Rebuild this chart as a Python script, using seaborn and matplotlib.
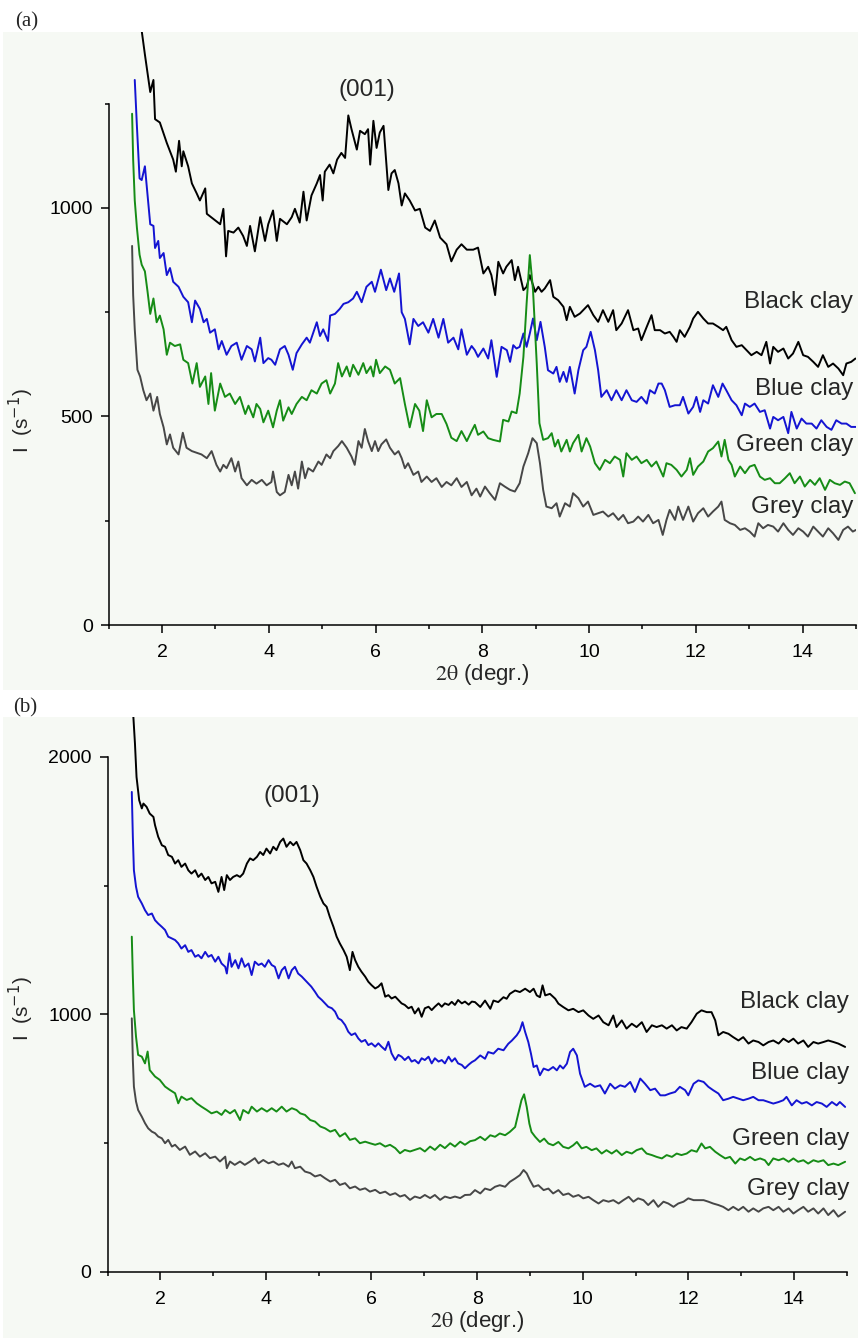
import matplotlib
matplotlib.use("Agg")
import matplotlib.pyplot as plt
import seaborn as sns
import pandas as pd
from matplotlib.patches import Rectangle

# ---------------- data ----------------
SAMPLES = ["Black clay", "Blue clay", "Green clay", "Grey clay"]
COLORS = ["#000000", "#1414d2", "#168c16", "#474747"]

A_BLACK = [(1.60,1460),(1.62,1425),(1.68,1368),(1.78,1278),(1.84,1307),(1.87,1213),(1.96,1205),(2.09,1156),(2.21,1116),(2.26,1087),(2.32,1161),(2.37,1100),(2.40,1136),(2.49,1100),(2.56,1059),(2.65,1035),(2.71,1018),(2.81,1047),(2.84,986),(2.96,974),(3.09,961),(3.15,998),(3.20,884),(3.24,945),(3.34,941),(3.43,953),(3.52,933),(3.59,909),(3.65,957),(3.74,896),(3.84,978),(3.93,921),(3.99,961),(4.08,994),(4.15,921),(4.21,974),(4.34,961),(4.43,978),(4.49,998),(4.58,965),(4.65,1039),(4.71,970),(4.80,1030),(4.90,1059),(4.96,1079),(5.01,1018),(5.05,1087),(5.14,1104),(5.21,1083),(5.28,1116),(5.36,1132),(5.43,1120),(5.49,1222),(5.55,1189),(5.65,1140),(5.71,1185),(5.80,1177),(5.86,1189),(5.90,1104),(5.96,1209),(6.02,1144),(6.08,1181),(6.15,1197),(6.24,1043),(6.30,1083),(6.36,1091),(6.43,1059),(6.49,1006),(6.55,1035),(6.64,1018),(6.74,994),(6.83,998),(6.93,953),(7.02,945),(7.11,970),(7.21,929),(7.33,913),(7.42,872),(7.52,900),(7.61,913),(7.71,900),(7.83,900),(7.92,905),(8.02,843),(8.11,859),(8.17,839),(8.24,791),(8.30,871),(8.39,843),(8.45,859),(8.55,875),(8.61,827),(8.67,859),(8.77,803),(8.83,811),(8.89,839),(8.99,799),(9.05,811),(9.11,799),(9.17,807),(9.27,827),(9.33,787),(9.42,779),(9.52,763),(9.58,731),(9.64,763),(9.73,739),(9.83,747),(9.92,759),(9.98,767),(10.08,743),(10.17,727),(10.26,755),(10.36,727),(10.45,755),(10.51,707),(10.61,723),(10.73,755),(10.83,707),(10.92,711),(10.98,683),(11.08,715),(11.17,743),(11.23,707),(11.33,707),(11.42,699),(11.51,703),(11.58,691),(11.64,679),(11.70,707),(11.79,691),(11.89,715),(11.95,735),(12.04,751),(12.14,735),(12.23,723),(12.32,723),(12.42,715),(12.51,707),(12.57,715),(12.67,683),(12.76,667),(12.86,671),(12.95,659),(13.04,647),(13.14,655),(13.23,647),(13.32,679),(13.39,627),(13.45,667),(13.54,655),(13.64,663),(13.73,639),(13.82,651),(13.92,679),(14.01,647),(14.10,643),(14.20,631),(14.29,619),(14.38,647),(14.48,619),(14.57,627),(14.67,615),(14.76,599),(14.82,627),(14.91,631),(14.99,639)]

A_BLUE = [(1.49,1307),(1.53,1197),(1.58,1071),(1.62,1067),(1.68,1100),(1.71,1059),(1.78,961),(1.84,957),(1.87,904),(1.93,921),(1.96,880),(2.03,892),(2.09,839),(2.15,856),(2.21,823),(2.31,811),(2.40,787),(2.49,774),(2.56,726),(2.62,778),(2.71,758),(2.78,726),(2.84,734),(2.90,701),(2.99,709),(3.06,661),(3.12,681),(3.21,648),(3.30,669),(3.40,677),(3.49,636),(3.59,669),(3.68,661),(3.74,632),(3.84,689),(3.90,628),(3.99,640),(4.05,636),(4.12,624),(4.21,661),(4.30,669),(4.37,648),(4.45,612),(4.52,652),(4.62,673),(4.71,689),(4.77,677),(4.90,726),(4.96,693),(5.02,709),(5.11,681),(5.15,742),(5.24,746),(5.33,758),(5.40,770),(5.49,774),(5.58,783),(5.65,799),(5.74,774),(5.83,811),(5.93,823),(5.99,799),(6.10,852),(6.20,803),(6.27,831),(6.35,799),(6.44,843),(6.49,750),(6.55,734),(6.64,673),(6.71,734),(6.80,717),(6.89,726),(6.99,701),(7.08,734),(7.18,689),(7.27,734),(7.36,677),(7.46,689),(7.55,661),(7.61,709),(7.71,648),(7.80,669),(7.86,659),(7.92,643),(8.02,663),(8.11,639),(8.17,683),(8.27,595),(8.36,667),(8.46,659),(8.52,631),(8.58,671),(8.64,663),(8.70,667),(8.77,699),(8.83,667),(8.89,699),(8.95,735),(9.02,683),(9.09,727),(9.17,667),(9.23,611),(9.33,603),(9.39,619),(9.45,583),(9.52,607),(9.58,583),(9.64,619),(9.73,555),(9.80,611),(9.89,659),(9.95,667),(10.03,703),(10.11,659),(10.17,611),(10.23,547),(10.33,563),(10.42,539),(10.51,563),(10.61,539),(10.70,563),(10.80,539),(10.89,535),(10.98,547),(11.08,531),(11.14,563),(11.23,555),(11.30,579),(11.36,579),(11.42,563),(11.51,523),(11.61,527),(11.70,527),(11.76,547),(11.86,507),(11.95,523),(12.01,547),(12.08,511),(12.14,539),(12.23,531),(12.32,575),(12.42,547),(12.50,579),(12.57,563),(12.67,539),(12.76,527),(12.86,503),(12.92,531),(13.01,523),(13.10,531),(13.20,511),(13.29,515),(13.39,471),(13.45,499),(13.54,491),(13.64,499),(13.73,460),(13.79,511),(13.89,471),(13.98,495),(14.07,483),(14.17,483),(14.26,471),(14.35,491),(14.45,475),(14.54,468),(14.63,491),(14.73,483),(14.82,483),(14.91,475),(15.00,475)]

A_GREEN = [(1.44,1226),(1.46,1116),(1.49,1018),(1.53,953),(1.58,888),(1.62,864),(1.68,848),(1.73,799),(1.78,746),(1.84,783),(1.90,726),(1.96,742),(2.03,709),(2.09,648),(2.15,677),(2.24,669),(2.34,673),(2.40,636),(2.49,628),(2.57,579),(2.65,628),(2.71,571),(2.81,596),(2.87,530),(2.92,604),(2.99,514),(3.09,579),(3.18,547),(3.27,555),(3.37,530),(3.46,547),(3.56,506),(3.62,526),(3.71,498),(3.77,530),(3.84,518),(3.90,486),(3.99,514),(4.08,474),(4.15,514),(4.21,539),(4.27,490),(4.37,522),(4.43,506),(4.52,530),(4.62,547),(4.71,539),(4.80,563),(4.90,555),(4.99,579),(5.08,587),(5.15,555),(5.24,579),(5.30,628),(5.37,596),(5.46,620),(5.52,596),(5.58,624),(5.68,600),(5.77,628),(5.83,604),(5.91,620),(5.96,596),(6.01,636),(6.08,604),(6.18,620),(6.27,612),(6.36,579),(6.46,592),(6.55,530),(6.64,474),(6.74,530),(6.82,514),(6.89,465),(6.96,539),(7.05,498),(7.14,506),(7.24,506),(7.33,482),(7.42,449),(7.52,441),(7.61,465),(7.71,441),(7.80,465),(7.86,480),(7.92,456),(8.02,464),(8.11,448),(8.20,444),(8.33,440),(8.39,492),(8.49,488),(8.55,512),(8.64,508),(8.70,555),(8.77,643),(8.83,771),(8.89,887),(8.95,803),(9.02,627),(9.07,484),(9.14,444),(9.23,448),(9.30,460),(9.36,428),(9.42,444),(9.48,416),(9.58,444),(9.64,416),(9.70,436),(9.80,456),(9.86,416),(9.95,448),(10.02,428),(10.11,388),(10.20,372),(10.30,396),(10.39,388),(10.48,404),(10.58,396),(10.64,356),(10.70,412),(10.80,396),(10.89,404),(10.98,388),(11.08,396),(11.17,380),(11.26,392),(11.39,356),(11.45,388),(11.54,384),(11.64,372),(11.73,356),(11.83,372),(11.89,400),(11.95,360),(12.04,380),(12.14,392),(12.23,416),(12.32,424),(12.42,440),(12.48,404),(12.54,444),(12.61,396),(12.67,384),(12.73,356),(12.83,380),(12.92,364),(13.01,380),(13.10,384),(13.20,356),(13.29,348),(13.39,352),(13.48,340),(13.57,340),(13.67,352),(13.76,364),(13.85,340),(13.95,356),(14.04,332),(14.14,348),(14.23,336),(14.32,352),(14.42,324),(14.51,348),(14.60,340),(14.70,336),(14.79,344),(14.88,340),(14.98,316)]

A_GREY = [(1.44,909),(1.46,791),(1.49,709),(1.54,612),(1.59,596),(1.65,563),(1.71,539),(1.78,555),(1.84,514),(1.91,547),(1.96,506),(2.03,474),(2.09,433),(2.15,457),(2.21,425),(2.31,409),(2.39,461),(2.46,425),(2.56,417),(2.65,413),(2.74,409),(2.84,400),(2.93,417),(3.02,384),(3.09,368),(3.15,384),(3.21,376),(3.30,400),(3.37,368),(3.43,392),(3.49,352),(3.59,335),(3.68,348),(3.77,339),(3.87,348),(3.96,335),(4.05,343),(4.08,368),(4.15,319),(4.21,311),(4.30,319),(4.37,360),(4.43,335),(4.49,368),(4.55,327),(4.62,392),(4.68,352),(4.74,376),(4.83,368),(4.93,392),(4.99,384),(5.08,409),(5.15,400),(5.21,417),(5.30,429),(5.37,441),(5.46,425),(5.55,404),(5.61,384),(5.68,441),(5.74,425),(5.80,470),(5.86,441),(5.93,417),(5.99,441),(6.05,417),(6.11,433),(6.20,445),(6.27,425),(6.36,409),(6.43,417),(6.49,400),(6.55,376),(6.61,388),(6.71,360),(6.80,368),(6.86,343),(6.96,356),(7.05,343),(7.14,352),(7.24,331),(7.33,343),(7.42,335),(7.52,352),(7.61,331),(7.71,343),(7.80,311),(7.89,327),(7.96,308),(8.05,332),(8.14,316),(8.24,300),(8.33,340),(8.42,332),(8.52,324),(8.61,320),(8.70,340),(8.77,380),(8.86,412),(8.94,448),(9.02,436),(9.08,388),(9.14,324),(9.20,284),(9.30,280),(9.39,292),(9.45,260),(9.55,292),(9.64,284),(9.70,316),(9.80,304),(9.89,284),(9.98,296),(10.08,264),(10.17,268),(10.26,272),(10.36,260),(10.45,268),(10.55,252),(10.64,264),(10.73,244),(10.83,248),(10.92,260),(11.01,248),(11.11,264),(11.20,244),(11.30,252),(11.38,216),(11.45,252),(11.51,276),(11.61,252),(11.67,284),(11.76,252),(11.86,284),(11.95,248),(12.04,268),(12.14,280),(12.23,260),(12.32,272),(12.42,284),(12.48,296),(12.54,252),(12.64,244),(12.73,240),(12.83,228),(12.92,232),(13.01,224),(13.10,212),(13.17,244),(13.26,232),(13.35,240),(13.45,236),(13.54,224),(13.64,244),(13.73,228),(13.82,216),(13.92,232),(14.01,224),(14.10,212),(14.20,236),(14.29,224),(14.38,212),(14.48,232),(14.57,220),(14.67,204),(14.76,228),(14.85,236),(14.94,224),(15.00,228)]

B_BLACK = [(1.48,2200),(1.49,2155),(1.52,2052),(1.55,1922),(1.60,1832),(1.65,1800),(1.68,1819),(1.74,1806),(1.80,1780),(1.87,1767),(1.90,1735),(1.96,1690),(2.03,1657),(2.09,1651),(2.15,1619),(2.22,1612),(2.28,1586),(2.34,1599),(2.40,1573),(2.47,1586),(2.53,1560),(2.59,1547),(2.66,1560),(2.72,1534),(2.78,1547),(2.85,1522),(2.91,1534),(2.97,1509),(3.04,1515),(3.10,1476),(3.16,1534),(3.21,1483),(3.26,1541),(3.32,1522),(3.38,1534),(3.45,1541),(3.51,1534),(3.57,1547),(3.64,1586),(3.70,1606),(3.76,1599),(3.83,1612),(3.89,1631),(3.95,1619),(4.01,1644),(4.08,1625),(4.14,1651),(4.20,1638),(4.27,1670),(4.33,1683),(4.39,1651),(4.46,1670),(4.52,1657),(4.58,1670),(4.65,1638),(4.71,1599),(4.77,1586),(4.84,1560),(4.90,1534),(4.96,1496),(5.03,1457),(5.09,1431),(5.15,1418),(5.21,1379),(5.28,1340),(5.34,1302),(5.40,1276),(5.47,1250),(5.53,1224),(5.59,1172),(5.64,1243),(5.69,1211),(5.75,1185),(5.81,1166),(5.88,1147),(5.94,1127),(6.00,1114),(6.07,1101),(6.13,1108),(6.19,1121),(6.26,1069),(6.32,1075),(6.38,1062),(6.45,1069),(6.51,1056),(6.57,1043),(6.63,1037),(6.70,1024),(6.76,1030),(6.82,1004),(6.89,1024),(6.95,991),(7.01,1024),(7.08,1030),(7.14,1017),(7.20,1030),(7.27,1043),(7.33,1030),(7.39,1043),(7.46,1037),(7.52,1049),(7.58,1037),(7.64,1056),(7.71,1043),(7.77,1050),(7.84,1038),(7.90,1050),(7.96,1048),(8.06,1029),(8.15,1054),(8.25,1022),(8.31,1054),(8.40,1048),(8.50,1067),(8.56,1061),(8.62,1080),(8.72,1093),(8.81,1087),(8.91,1100),(9.00,1087),(9.07,1100),(9.13,1074),(9.19,1067),(9.24,1113),(9.29,1074),(9.38,1080),(9.48,1061),(9.54,1042),(9.63,1029),(9.73,1016),(9.82,1022),(9.92,1009),(10.01,1016),(10.11,996),(10.20,983),(10.30,996),(10.39,970),(10.49,958),(10.58,996),(10.64,951),(10.74,977),(10.83,945),(10.93,964),(11.02,951),(11.12,970),(11.21,932),(11.31,958),(11.40,951),(11.50,958),(11.59,945),(11.69,958),(11.78,938),(11.87,951),(11.97,945),(12.06,970),(12.16,1003),(12.25,1016),(12.35,1009),(12.44,1009),(12.51,977),(12.57,919),(12.66,932),(12.76,925),(12.85,912),(12.95,899),(13.04,912),(13.14,887),(13.23,899),(13.33,893),(13.42,880),(13.52,893),(13.61,899),(13.71,887),(13.80,906),(13.90,893),(13.99,906),(14.08,887),(14.18,899),(14.27,874),(14.37,893),(14.46,887),(14.56,893),(14.65,899),(14.75,893),(14.84,887),(14.97,874)]

B_BLUE = [(1.46,1864),(1.48,1690),(1.50,1560),(1.54,1496),(1.58,1457),(1.65,1431),(1.71,1405),(1.77,1386),(1.84,1392),(1.90,1366),(1.96,1353),(2.03,1340),(2.09,1328),(2.15,1302),(2.22,1295),(2.28,1289),(2.34,1276),(2.40,1256),(2.47,1269),(2.53,1243),(2.59,1250),(2.66,1224),(2.72,1231),(2.78,1218),(2.85,1243),(2.91,1224),(2.97,1231),(3.04,1205),(3.10,1224),(3.16,1198),(3.23,1185),(3.26,1159),(3.31,1237),(3.35,1185),(3.42,1211),(3.48,1179),(3.54,1218),(3.60,1185),(3.67,1198),(3.73,1153),(3.79,1205),(3.86,1192),(3.92,1198),(3.98,1185),(4.05,1211),(4.11,1192),(4.17,1185),(4.24,1140),(4.30,1172),(4.36,1185),(4.43,1140),(4.49,1172),(4.55,1185),(4.61,1159),(4.68,1147),(4.74,1134),(4.80,1121),(4.86,1108),(4.93,1088),(4.99,1069),(5.06,1056),(5.12,1043),(5.18,1030),(5.25,1024),(5.31,1011),(5.37,985),(5.43,978),(5.50,959),(5.56,933),(5.62,920),(5.69,927),(5.75,907),(5.81,894),(5.88,901),(5.94,881),(6.00,888),(6.07,875),(6.13,888),(6.19,875),(6.26,862),(6.32,894),(6.38,849),(6.45,823),(6.51,843),(6.57,836),(6.63,823),(6.70,836),(6.76,817),(6.82,823),(6.89,810),(6.95,830),(7.01,823),(7.08,836),(7.14,810),(7.20,830),(7.27,817),(7.33,823),(7.39,810),(7.46,836),(7.52,817),(7.58,830),(7.64,810),(7.71,804),(7.77,791),(7.84,805),(7.90,815),(7.96,822),(8.06,841),(8.15,828),(8.21,854),(8.31,848),(8.40,867),(8.50,861),(8.59,886),(8.66,899),(8.75,919),(8.81,938),(8.86,970),(8.91,932),(8.97,893),(9.02,848),(9.07,796),(9.13,802),(9.19,764),(9.26,790),(9.35,783),(9.44,796),(9.51,783),(9.57,802),(9.63,790),(9.70,809),(9.76,854),(9.82,867),(9.89,841),(9.95,770),(10.04,719),(10.14,731),(10.23,719),(10.33,725),(10.42,693),(10.52,731),(10.61,712),(10.71,725),(10.80,719),(10.90,738),(10.99,699),(11.09,751),(11.18,731),(11.28,706),(11.37,712),(11.47,686),(11.56,686),(11.65,693),(11.75,699),(11.84,719),(11.94,706),(12.00,686),(12.10,731),(12.19,744),(12.29,738),(12.38,719),(12.47,706),(12.57,693),(12.66,667),(12.76,673),(12.85,680),(12.95,673),(13.04,667),(13.14,673),(13.23,680),(13.33,667),(13.42,667),(13.52,660),(13.61,654),(13.71,660),(13.80,667),(13.86,680),(13.96,647),(14.05,667),(14.15,654),(14.24,660),(14.34,647),(14.43,660),(14.53,654),(14.62,641),(14.72,660),(14.81,647),(14.87,660),(14.97,641)]

B_GREEN = [(1.46,1302),(1.48,1147),(1.50,1017),(1.54,914),(1.58,843),(1.65,836),(1.71,810),(1.76,856),(1.80,784),(1.90,759),(1.99,746),(2.09,720),(2.18,707),(2.28,694),(2.34,655),(2.40,681),(2.50,668),(2.59,675),(2.69,655),(2.78,642),(2.88,629),(2.97,616),(3.07,623),(3.16,610),(3.23,629),(3.32,616),(3.41,629),(3.51,590),(3.57,629),(3.67,616),(3.73,642),(3.83,623),(3.92,636),(4.02,623),(4.11,636),(4.20,623),(4.30,642),(4.39,623),(4.49,636),(4.58,629),(4.65,616),(4.74,610),(4.84,590),(4.93,584),(5.03,565),(5.12,558),(5.22,545),(5.31,552),(5.40,526),(5.50,539),(5.59,513),(5.69,519),(5.78,500),(5.88,506),(5.97,500),(6.07,494),(6.16,500),(6.26,487),(6.35,494),(6.45,481),(6.54,461),(6.63,474),(6.73,468),(6.82,474),(6.92,481),(7.01,468),(7.11,487),(7.20,474),(7.30,494),(7.39,481),(7.49,500),(7.58,487),(7.68,506),(7.77,494),(7.87,508),(7.96,512),(8.06,525),(8.15,512),(8.25,531),(8.34,525),(8.43,538),(8.53,531),(8.62,544),(8.72,563),(8.78,615),(8.84,667),(8.89,690),(8.94,641),(8.99,576),(9.03,544),(9.10,525),(9.19,505),(9.27,518),(9.35,499),(9.44,492),(9.54,505),(9.63,486),(9.73,480),(9.82,492),(9.89,505),(9.98,480),(10.07,486),(10.17,473),(10.26,480),(10.36,460),(10.45,473),(10.55,460),(10.64,473),(10.74,454),(10.83,467),(10.93,460),(11.02,473),(11.12,480),(11.21,460),(11.31,454),(11.40,447),(11.50,441),(11.59,454),(11.69,447),(11.78,460),(11.87,454),(11.97,460),(12.06,473),(12.16,467),(12.25,499),(12.32,480),(12.41,486),(12.51,467),(12.60,454),(12.70,441),(12.79,447),(12.89,421),(12.98,441),(13.07,434),(13.17,447),(13.26,434),(13.36,441),(13.45,434),(13.52,415),(13.61,441),(13.71,434),(13.80,441),(13.90,428),(13.99,441),(14.08,428),(14.18,434),(14.27,421),(14.37,434),(14.46,428),(14.56,434),(14.65,415),(14.75,421),(14.84,415),(14.97,428)]

B_GREY = [(1.46,985),(1.48,823),(1.50,720),(1.54,662),(1.58,629),(1.65,603),(1.71,578),(1.77,558),(1.84,545),(1.90,539),(1.96,526),(2.03,519),(2.09,500),(2.15,513),(2.22,487),(2.28,494),(2.37,474),(2.47,487),(2.56,455),(2.66,468),(2.75,448),(2.85,461),(2.94,442),(3.04,448),(3.13,429),(3.23,448),(3.26,403),(3.32,429),(3.41,416),(3.51,429),(3.60,416),(3.70,429),(3.79,442),(3.86,422),(3.95,435),(4.05,422),(4.14,429),(4.24,416),(4.33,422),(4.43,409),(4.49,429),(4.55,403),(4.65,409),(4.74,390),(4.84,384),(4.93,371),(5.03,377),(5.12,364),(5.22,351),(5.31,358),(5.40,338),(5.50,345),(5.59,325),(5.69,332),(5.78,319),(5.88,325),(5.97,312),(6.07,319),(6.16,306),(6.26,312),(6.35,299),(6.45,306),(6.54,293),(6.63,299),(6.73,280),(6.82,293),(6.92,287),(7.01,299),(7.11,287),(7.20,299),(7.30,280),(7.39,293),(7.49,287),(7.58,293),(7.68,287),(7.77,299),(7.87,300),(7.96,318),(8.06,305),(8.15,324),(8.25,318),(8.34,331),(8.43,337),(8.53,331),(8.62,350),(8.72,363),(8.81,376),(8.88,396),(8.94,383),(9.00,357),(9.07,331),(9.16,337),(9.26,318),(9.35,324),(9.44,305),(9.54,318),(9.63,299),(9.73,305),(9.82,292),(9.92,299),(10.01,286),(10.11,292),(10.20,279),(10.30,266),(10.39,279),(10.49,273),(10.58,279),(10.68,266),(10.77,279),(10.87,292),(10.96,273),(11.05,286),(11.15,279),(11.24,260),(11.34,279),(11.43,253),(11.53,273),(11.62,266),(11.72,253),(11.81,266),(11.91,273),(12.00,286),(12.10,279),(12.19,279),(12.29,279),(12.38,273),(12.47,266),(12.57,260),(12.66,253),(12.76,240),(12.85,253),(12.95,240),(13.04,253),(13.14,234),(13.23,247),(13.33,234),(13.42,247),(13.52,253),(13.61,240),(13.71,253),(13.80,234),(13.90,247),(13.99,227),(14.08,240),(14.18,253),(14.27,234),(14.37,247),(14.46,227),(14.56,247),(14.65,221),(14.75,240),(14.84,215),(14.97,234)]

X_MAJOR = [2, 4, 6, 8, 10, 12, 14]
X_MINOR = [1, 3, 5, 7, 9, 11, 13, 15]
A_Y_MAJOR = [0, 500, 1000]
A_Y_MINOR = [250, 750, 1250]
B_Y_MAJOR = [0, 1000, 2000]
B_Y_MINOR = [500, 1500]
A_LABEL_Y = [775, 565, 432, 284]
B_LABEL_Y = [1048, 771, 516, 321]
A_PEAK = (5.83, 1282)
B_PEAK = (4.49, 1850)

# ---------------- style ----------------
sns.set_style("ticks")
plt.rcParams['font.family'] = ['Liberation Sans', 'DejaVu Sans']
plt.rcParams['axes.edgecolor'] = 'black'
plt.rcParams['xtick.color'] = 'black'
plt.rcParams['ytick.color'] = 'black'

W, H = 860, 1338
fig = plt.figure(figsize=(W / 100, H / 100), dpi=100)
fig.patch.set_facecolor('white')
BG = '#f6f9f4'
fig.patches.append(Rectangle((3 / W, (H - 690) / H), 855 / W, 658 / H,
                             transform=fig.transFigure, facecolor=BG,
                             edgecolor='none', zorder=-10))
fig.patches.append(Rectangle((3 / W, 0), 855 / W, (H - 717) / H,
                             transform=fig.transFigure, facecolor=BG,
                             edgecolor='none', zorder=-10))


def px_axes(left, right, top, bottom):
    return fig.add_axes([left / W, (H - bottom) / H, (right - left) / W, (bottom - top) / H])


axA = px_axes(108.6, 856, 32, 625)
axB = px_axes(107.5, 846.7, 717, 1272)

panels = [
    (axA, [A_BLACK, A_BLUE, A_GREEN, A_GREY], (0, 1422), A_Y_MAJOR, A_Y_MINOR, 1250,
     A_LABEL_Y, A_PEAK, 14.95, 0.345),
    (axB, [B_BLACK, B_BLUE, B_GREEN, B_GREY], (0, 2155), B_Y_MAJOR, B_Y_MINOR, 2000,
     B_LABEL_Y, B_PEAK, 15.05, 0.475),
]

for ax, series, ylim, ymaj, ymin, ytop, laby, peak, labx, ylab_pos in panels:
    ax.set_facecolor('none')
    for name, pts, col in zip(SAMPLES, series, COLORS):
        df = pd.DataFrame(pts, columns=['x', 'y'])
        sns.lineplot(data=df, x='x', y='y', ax=ax, color=col, lw=1.4,
                     estimator=None, sort=False)
    ax.set_xlim(1, 15)
    ax.set_ylim(*ylim)
    ax.set_xticks(X_MAJOR)
    ax.set_xticks(X_MINOR, minor=True)
    ax.set_yticks(ymaj)
    ax.set_yticks(ymin, minor=True)
    ax.tick_params(which='major', length=5.5, width=1.1, direction='out',
                   labelsize=14)
    ax.tick_params(axis='x', which='major', pad=8)
    ax.tick_params(axis='y', which='major', pad=6)
    ax.tick_params(which='minor', length=3, width=1.1, direction='out')
    for s in ['top', 'right']:
        ax.spines[s].set_visible(False)
    for s in ['left', 'bottom']:
        ax.spines[s].set_linewidth(1.1)
    ax.spines['left'].set_bounds(0, ytop)
    ax.set_xlabel(r"$\mathrm{2\theta}$ (degr.)", fontsize=16, labelpad=1,
                  math_fontfamily='stix')
    ax.set_ylabel(r"I  (s$^{-1}$)", fontsize=15, math_fontfamily='dejavusans')
    bbox_w = ax.get_position().width * W
    ax.yaxis.set_label_coords((36 - ax.get_position().x0 * W) / bbox_w, ylab_pos)
    for name, yv in zip(SAMPLES, laby):
        ax.text(labx, yv, name, ha='right', va='center', fontsize=17.5)
    ax.text(peak[0], peak[1], "(001)", ha='center', va='center', fontsize=17.5)

fig.text(15 / W, 1 - 22 / H, "(a)", family='Liberation Serif', fontsize=15,
         ha='left', va='center')
fig.text(13 / W, 1 - 708 / H, "(b)", family='Liberation Serif', fontsize=15,
         ha='left', va='center')

fig.savefig("out.png", dpi=100)
